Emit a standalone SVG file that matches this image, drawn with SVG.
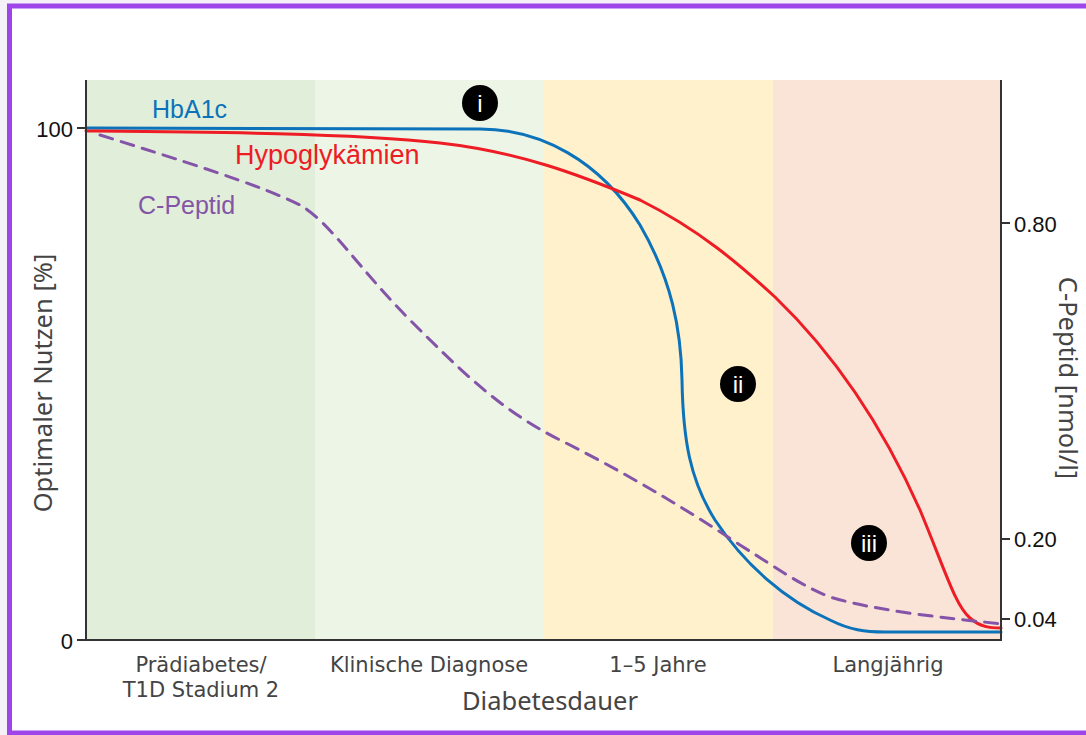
<svg xmlns="http://www.w3.org/2000/svg" width="1086" height="735" viewBox="0 0 1086 735">
<style>
.tick{font-family:"Liberation Sans",Arial,sans-serif;font-size:22px;fill:#111}
.cat{font-family:"DejaVu Sans",Verdana,sans-serif;font-size:21px;fill:#444;text-anchor:middle}
.title{font-family:"Noto Sans","Open Sans",sans-serif;font-size:25.5px;fill:#444;text-anchor:middle}
.lbl{font-family:"Liberation Sans",Arial,sans-serif;font-size:25px}
.ax{stroke:#333;stroke-width:2;fill:none}
.curve{fill:none;stroke-width:3;stroke-linecap:round;stroke-linejoin:round}
.badge circle{fill:#000}
.badge text{font-family:"Liberation Sans",Arial,sans-serif;font-size:24px;fill:#fff;text-anchor:middle}
</style>
<rect x="0" y="0" width="1086" height="735" fill="#f4f1f8"/>
<rect x="9.5" y="6" width="1100" height="727" fill="#ffffff" stroke="#9d45e9" stroke-width="5"/>
<g id="bands">
<rect x="86" y="80" width="229" height="560" fill="#e1eed9"/>
<rect x="315" y="80" width="229" height="560" fill="#edf5e6"/>
<rect x="544" y="80" width="229" height="560" fill="#fef1cc"/>
<rect x="773" y="80" width="228" height="560" fill="#f9e4d7"/>
</g>
<g id="connectors">
<path id="hba1c" class="curve" stroke="#0c72ba" d="M86,128 L480,129 C540,129 600,160 640,225 C672,280 681,330 682,380 C683,440 690,480 715,520 C745,565 785,600 830,620 C850,630 865,632 885,632 L1001,632"/>
<path id="hypo" class="curve" stroke="#ee1c25" d="M86,131 C200,132 350,133 440,143 C520,152 580,175 640,200 C700,230 740,265 775,297 C830,350 880,420 920,510 C945,570 955,605 970,618 C980,627 990,628 1001,628"/>
<path id="cpep" class="curve" stroke="#8454a8" stroke-width="3.2" stroke-dasharray="13 9" stroke-linecap="butt" d="M100,135 C180,160 260,185 300,205 C330,222 360,270 410,320 C460,370 500,410 560,440 C620,470 680,505 740,545 C780,570 800,585 830,597 C880,612 950,618 1001,624"/>
</g>
<g id="axes">
<path class="ax" d="M86,80 V640 H1001 V80"/>
<path class="ax" d="M77,128 H86 M77,640 H86 M1001,223 H1010 M1001,539 H1010 M1001,619 H1010"/>
<text class="tick" x="73" y="137" text-anchor="end">100</text>
<text class="tick" x="73" y="649" text-anchor="end">0</text>
<text class="tick" x="1014" y="232">0.80</text>
<text class="tick" x="1014" y="547">0.20</text>
<text class="tick" x="1014" y="627">0.04</text>
</g>
<g id="category-labels">
<text class="cat" x="201" y="672">Prädiabetes/</text>
<text class="cat" x="201" y="697">T1D Stadium 2</text>
<text class="cat" x="429" y="672">Klinische Diagnose</text>
<text class="cat" x="658" y="672">1–5 Jahre</text>
<text class="cat" x="888" y="672">Langjährig</text>
</g>
<g id="axis-titles">
<text class="title" x="550" y="710">Diabetesdauer</text>
<text class="title" transform="translate(52,383) rotate(-90)">Optimaler Nutzen [%]</text>
<text class="title" transform="translate(1059,378) rotate(90)">C-Peptid [nmol/l]</text>
</g>
<g id="series-labels">
<text class="lbl" x="152" y="118" fill="#0c72ba">HbA1c</text>
<text class="lbl" x="235" y="164" fill="#ee1c25" style="font-size:27px">Hypoglykämien</text>
<text class="lbl" x="138" y="214" fill="#8454a8">C-Peptid</text>
</g>
<g id="badge-i" class="badge"><circle cx="480" cy="103" r="18"/><text x="480" y="112">i</text></g>
<g id="badge-ii" class="badge"><circle cx="738" cy="384" r="18"/><text x="738" y="393">ii</text></g>
<g id="badge-iii" class="badge"><circle cx="869" cy="543" r="18"/><text x="869" y="552">iii</text></g>
</svg>
